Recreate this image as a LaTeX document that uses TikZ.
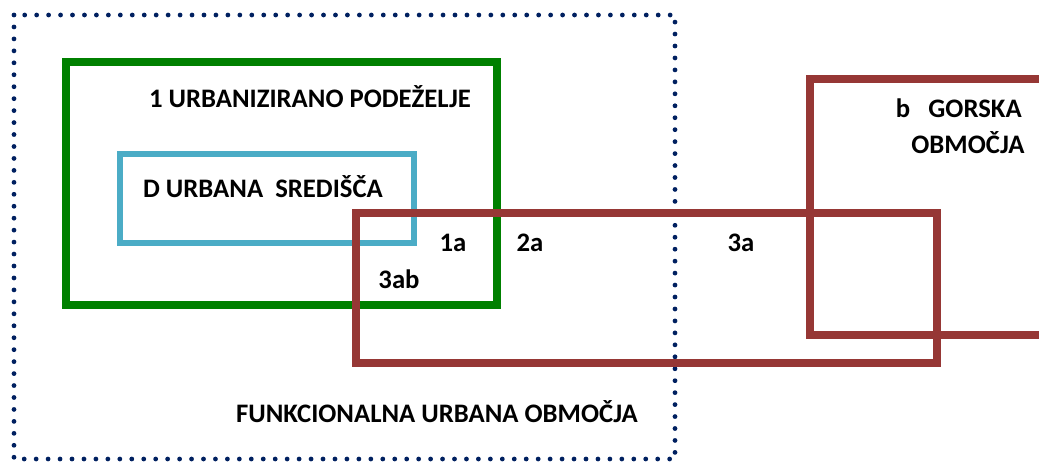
\documentclass[tikz,border=0pt]{standalone}
\usepackage{fontspec}
\setmainfont{Carlito}
\usepackage{xcolor}
\definecolor{fuagreen}{RGB}{0,128,0}
\definecolor{centreblue}{RGB}{75,172,198}
\definecolor{zonebrown}{RGB}{150,55,53}
\definecolor{fuanavy}{RGB}{0,32,96}

\begin{document}
\begin{tikzpicture}[
  x=0.025cm, y=-0.025cm,
  every node/.style={font=\fontsize{19}{22}\selectfont\bfseries, inner sep=0pt},
  frame/.style={line width=5pt},
  rural/.style={frame, draw=fuagreen},
  urban/.style={frame, draw=centreblue, line width=4.5pt},
  zone/.style={frame, draw=zonebrown},
  fua/.style={draw=fuanavy, line width=3.4pt, line cap=round, dash pattern=on 0pt off 8.5pt}
]
\useasboundingbox (0,0) rectangle (1039,461);
\clip (0,0) rectangle (1039,461);
% outer dotted frame
\draw[fua] (14,15) rectangle (675,459);
% boxes
\draw[rural] (66,62) rectangle (497,305);
\draw[urban] (120,154) rectangle (414,243);
\draw[zone] (356,213) rectangle (937,363);
\draw[zone] (810,79) rectangle (1060,335);
% labels
\node (podezelje) at (310,97) {1 URBANIZIRANO PODEŽELJE};
\node (sredisca) at (263,187) {D URBANA~~SREDIŠČA};
\node (la) at (453,243) {1a};
\node (lb) at (530,243) {2a};
\node (lc) at (741,243) {3a};
\node (ld) at (399,279) {3ab};
\node[anchor=east] (gorska) at (1022,108) {b~~~GORSKA};
\node (obmocja) at (968,143) {OBMOČJA};
\node (funkc) at (437,412) {FUNKCIONALNA URBANA OBMOČJA};
\end{tikzpicture}
\end{document}
